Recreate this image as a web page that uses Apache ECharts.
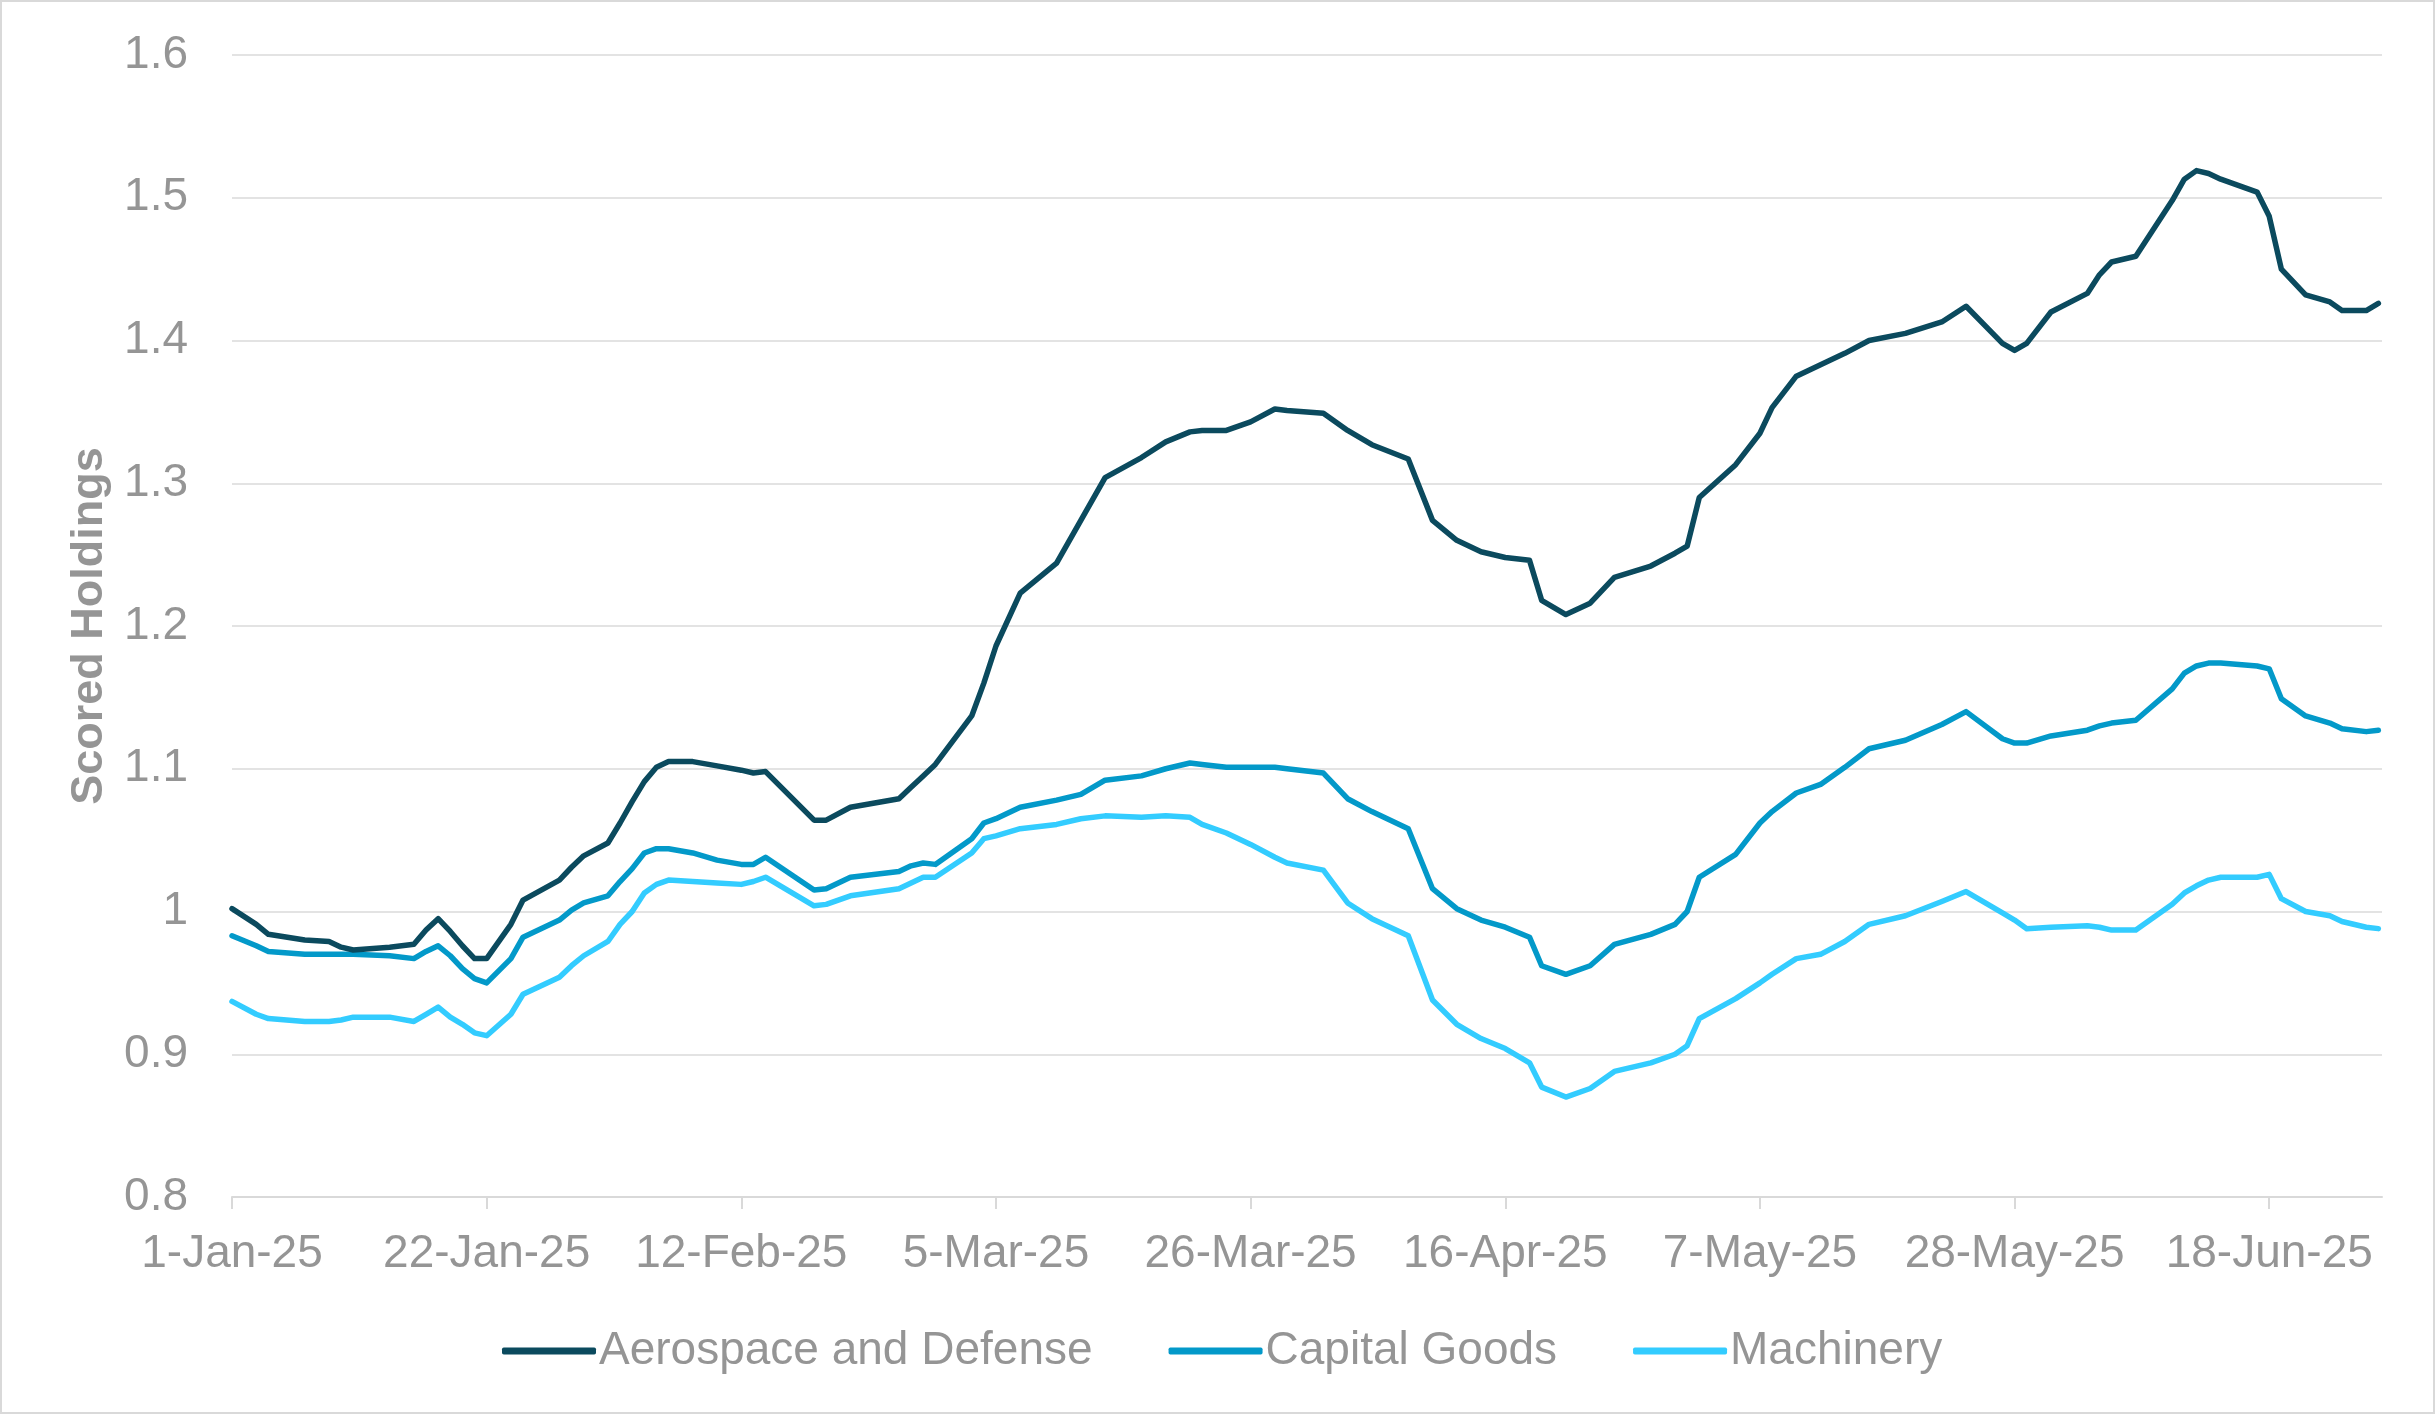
<!DOCTYPE html>
<html>
<head>
<meta charset="utf-8">
<script src="https://cdn.jsdelivr.net/npm/echarts@6/dist/echarts.min.js"></script>
<style>
  html, body { margin: 0; padding: 0; background: #fff; }
  #chart { width: 2435px; height: 1414px; box-sizing: border-box; border: 2px solid #d9d9d9; }
</style>
</head>
<body>
<div id="chart"></div>
<script>
// dates of the readings (2025)
var dates = [
  '2025-01-01', '2025-01-03', '2025-01-04', '2025-01-07', '2025-01-09', '2025-01-10', '2025-01-11', '2025-01-14',
  '2025-01-16', '2025-01-17', '2025-01-18', '2025-01-19', '2025-01-20', '2025-01-21', '2025-01-22', '2025-01-24',
  '2025-01-25', '2025-01-28', '2025-01-29', '2025-01-30', '2025-02-01', '2025-02-02', '2025-02-03', '2025-02-04',
  '2025-02-05', '2025-02-06', '2025-02-08', '2025-02-10', '2025-02-12', '2025-02-13', '2025-02-14', '2025-02-18',
  '2025-02-19', '2025-02-21', '2025-02-25', '2025-02-26', '2025-02-27', '2025-02-28', '2025-03-03', '2025-03-04',
  '2025-03-05', '2025-03-07', '2025-03-10', '2025-03-12', '2025-03-14', '2025-03-17', '2025-03-19', '2025-03-21',
  '2025-03-22', '2025-03-24', '2025-03-26', '2025-03-28', '2025-03-29', '2025-04-01', '2025-04-03', '2025-04-05',
  '2025-04-08', '2025-04-10', '2025-04-12', '2025-04-14', '2025-04-16', '2025-04-18', '2025-04-19', '2025-04-21',
  '2025-04-23', '2025-04-25', '2025-04-28', '2025-04-30', '2025-05-01', '2025-05-02', '2025-05-05', '2025-05-07',
  '2025-05-08', '2025-05-10', '2025-05-12', '2025-05-14', '2025-05-16', '2025-05-19', '2025-05-22', '2025-05-24',
  '2025-05-27', '2025-05-28', '2025-05-29', '2025-05-31', '2025-06-03', '2025-06-04', '2025-06-05', '2025-06-07',
  '2025-06-10', '2025-06-11', '2025-06-12', '2025-06-13', '2025-06-14', '2025-06-17', '2025-06-18', '2025-06-19',
  '2025-06-21', '2025-06-23', '2025-06-24', '2025-06-26', '2025-06-27'
]

var aerospace = [
  1.002, 0.991, 0.984, 0.980, 0.979, 0.975, 0.973, 0.975,
  0.977, 0.987, 0.995, 0.986, 0.976, 0.967, 0.967, 0.991,
  1.008, 1.022, 1.031, 1.039, 1.048, 1.062, 1.077, 1.091,
  1.101, 1.105, 1.105, 1.102, 1.099, 1.097, 1.098, 1.064,
  1.064, 1.073, 1.079, 1.087, 1.095, 1.103, 1.137, 1.160,
  1.186, 1.223, 1.244, 1.274, 1.304, 1.318, 1.329, 1.336,
  1.337, 1.337, 1.343, 1.352, 1.351, 1.349, 1.337, 1.327,
  1.317, 1.274, 1.260, 1.252, 1.248, 1.246, 1.218, 1.208,
  1.216, 1.234, 1.242, 1.251, 1.256, 1.290, 1.313, 1.335,
  1.353, 1.375, 1.383, 1.391, 1.400, 1.405, 1.413, 1.424,
  1.398, 1.393, 1.398, 1.420, 1.433, 1.446, 1.455, 1.459,
  1.498, 1.513, 1.519, 1.517, 1.513, 1.504, 1.487, 1.450,
  1.432, 1.427, 1.421, 1.421, 1.426
]

var capitalGoods = [
  0.983, 0.976, 0.972, 0.970, 0.970, 0.970, 0.970, 0.969,
  0.967, 0.972, 0.976, 0.969, 0.960, 0.953, 0.950, 0.967,
  0.982, 0.994, 1.001, 1.006, 1.011, 1.021, 1.030, 1.041,
  1.044, 1.044, 1.041, 1.036, 1.033, 1.033, 1.038, 1.015,
  1.016, 1.024, 1.028, 1.032, 1.034, 1.033, 1.051, 1.062,
  1.065, 1.073, 1.078, 1.082, 1.092, 1.095, 1.100, 1.104,
  1.103, 1.101, 1.101, 1.101, 1.100, 1.097, 1.079, 1.070,
  1.058, 1.016, 1.002, 0.994, 0.989, 0.982, 0.962, 0.956,
  0.962, 0.977, 0.984, 0.991, 1.000, 1.024, 1.040, 1.062,
  1.070, 1.083, 1.089, 1.101, 1.114, 1.120, 1.131, 1.140,
  1.121, 1.118, 1.118, 1.123, 1.127, 1.130, 1.132, 1.134,
  1.156, 1.167, 1.172, 1.174, 1.174, 1.172, 1.170, 1.149,
  1.137, 1.132, 1.128, 1.126, 1.127
]

var machinery = [
  0.937, 0.928, 0.925, 0.923, 0.923, 0.924, 0.926, 0.926,
  0.923, 0.928, 0.933, 0.926, 0.921, 0.915, 0.913, 0.928,
  0.942, 0.954, 0.962, 0.969, 0.979, 0.991, 1.000, 1.013,
  1.019, 1.022, 1.021, 1.020, 1.019, 1.021, 1.024, 1.004,
  1.005, 1.011, 1.016, 1.020, 1.024, 1.024, 1.041, 1.051,
  1.053, 1.058, 1.061, 1.065, 1.067, 1.066, 1.067, 1.066,
  1.061, 1.055, 1.047, 1.038, 1.034, 1.029, 1.006, 0.995,
  0.983, 0.938, 0.921, 0.911, 0.904, 0.894, 0.877, 0.870,
  0.876, 0.888, 0.894, 0.900, 0.906, 0.925, 0.939, 0.950,
  0.956, 0.967, 0.970, 0.979, 0.991, 0.997, 1.007, 1.014,
  0.999, 0.994, 0.988, 0.989, 0.990, 0.989, 0.987, 0.987,
  1.005, 1.013, 1.018, 1.022, 1.024, 1.024, 1.026, 1.009,
  1.000, 0.997, 0.993, 0.989, 0.988
]

var seriesNames = ['Aerospace and Defense', 'Capital Goods', 'Machinery']
var seriesColors = ['#0b4a5e', '#0399c9', '#33ccff']

// x tick positions, in days from 1-Jan-25 (every three weeks)
var tickDays = [0, 21, 42, 63, 84, 105, 126, 147, 168]

var DAY = 86400000
var START = Date.UTC(2025, 0, 1)
var MONTHS = ['Jan', 'Feb', 'Mar', 'Apr', 'May', 'Jun', 'Jul', 'Aug', 'Sep', 'Oct', 'Nov', 'Dec']

function dayOffset (s) {
  var p = s.split('-')
  return Math.round((Date.UTC(+p[0], +p[1] - 1, +p[2]) - START) / DAY)
}

function dayLabel (d) {
  var dt = new Date(START + d * DAY)
  return dt.getUTCDate() + '-' + MONTHS[dt.getUTCMonth()] + '-' + String(dt.getUTCFullYear()).slice(2)
}

function pairs (values) {
  return dates.map(function (d, i) { return [dayOffset(d), values[i]] })
}

var FONT = '"Liberation Sans", Arial, sans-serif'
var TEXT = '#959595'
var GRID = '#e3e3e3'

var chart = echarts.init(document.getElementById('chart'))

var option = {
  animation: false,
  backgroundColor: '#fff',
  grid: {
    left: 230,
    right: 51,
    top: 53,
    bottom: 215
  },
  legend: {
    bottom: 33,
    left: 495,
    itemGap: 76,
    itemWidth: 94,
    itemHeight: 7,
    icon: 'roundRect',
    textStyle: { fontFamily: FONT, fontSize: 46, color: TEXT, padding: [0, 0, 0, -2] },
    data: seriesNames
  },
  xAxis: {
    type: 'value',
    min: 0,
    max: 177.3,
    interval: 21,
    axisLine: { show: true, lineStyle: { color: '#d9d9d9', width: 2 } },
    axisTick: {
      show: true,
      customValues: tickDays,
      length: 12,
      lineStyle: { color: '#d9d9d9', width: 2 }
    },
    axisLabel: {
      customValues: tickDays,
      margin: 34,
      fontFamily: FONT,
      fontSize: 46,
      color: TEXT,
      formatter: function (v) { return dayLabel(v) }
    },
    splitLine: { show: false }
  },
  yAxis: {
    type: 'value',
    min: 0.8,
    max: 1.6,
    interval: 0.1,
    name: 'Scored Holdings',
    nameLocation: 'middle',
    nameGap: 120,
    nameTextStyle: { fontFamily: FONT, fontSize: 45, fontWeight: 'bold', color: TEXT },
    axisLine: { show: false },
    axisTick: { show: false },
    axisLabel: {
      margin: 44,
      fontFamily: FONT,
      fontSize: 46,
      color: TEXT,
      formatter: function (v) { return String(Math.round(v * 10) / 10) }
    },
    splitLine: { show: true, lineStyle: { color: GRID, width: 2 } }
  },
  series: [aerospace, capitalGoods, machinery].map(function (vals, i) {
    return {
      name: seriesNames[i],
      type: 'line',
      data: pairs(vals),
      showSymbol: false,
      symbol: 'none',
      color: seriesColors[i],
      lineStyle: { color: seriesColors[i], width: 5.5, cap: 'round', join: 'round' },
      z: 10 - i
    }
  })
}

chart.setOption(option)
</script>
</body>
</html>
